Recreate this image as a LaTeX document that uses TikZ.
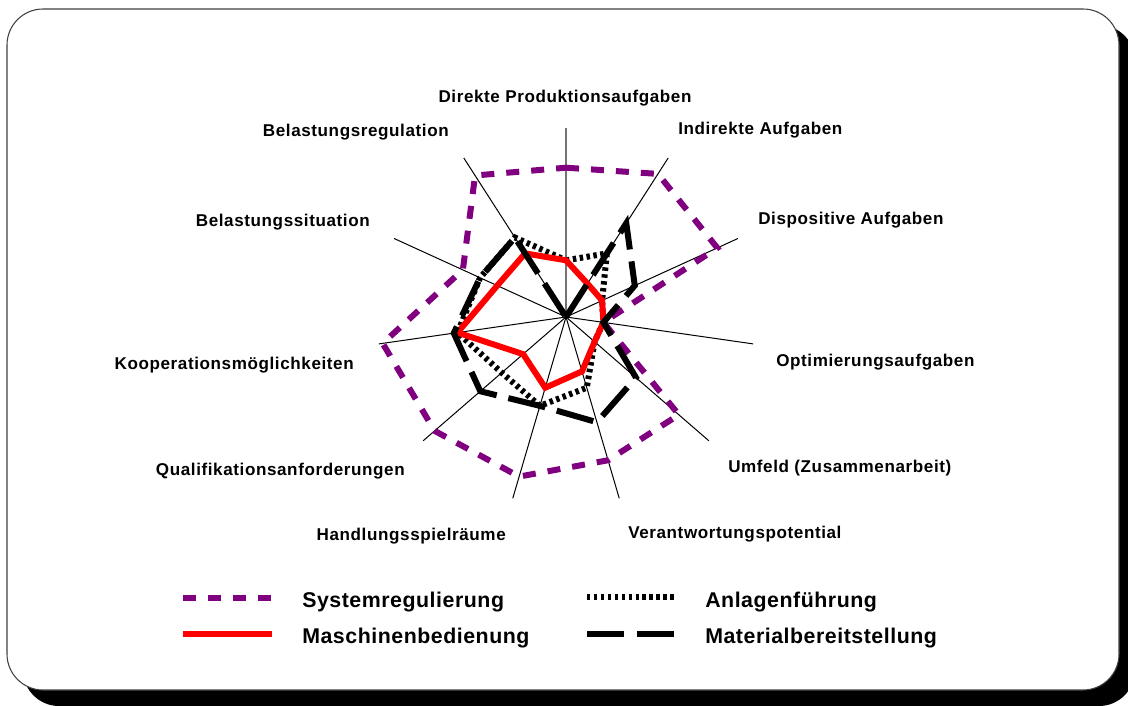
\documentclass[tikz,border=0pt]{standalone}
\usepackage{fontspec}
\setmainfont{Liberation Sans}
\usetikzlibrary{calc}
\definecolor{sysviolet}{RGB}{128,0,128}
\definecolor{machred}{RGB}{255,0,0}

\begin{document}
\begin{tikzpicture}[x=0.75pt,y=-0.75pt,
  spoke/.style={line width=0.75pt,draw=black},
  mainspoke/.style={line width=0.9pt,draw=black!55},
  axlabel/.style={inner sep=0pt,
    font=\fontsize{12.8}{15}\selectfont\bfseries\addfontfeature{LetterSpace=3.5}},
  legtext/.style={inner sep=0pt,anchor=base west,
    font=\fontsize{16}{19}\selectfont\bfseries\addfontfeature{LetterSpace=2.5}},
  serie/.style={line width=4.5pt,line cap=butt,line join=miter,miter limit=10},
  sysline/.style={serie,draw=sysviolet,dash pattern=on 9.75pt off 9pt},
  machline/.style={serie,draw=machred},
  plantline/.style={serie,draw=black,dash pattern=on 2.6pt off 2.6pt},
  matline/.style={serie,draw=black,dash pattern=on 28.5pt off 9pt},
]
\useasboundingbox (0,0) rectangle (1128,706);
\clip (0,0) rectangle (1128,706);

% panel with its drop shadow
\fill[black,rounded corners=27pt] (23,25) rectangle (1135,706);
\draw[fill=white,draw=black!75,line width=0.8pt,rounded corners=27pt] (7,9) rectangle (1119,690);

% radar chart, 11 spokes of radius 189 around the centre
\coordinate (O) at (566,317);
\begin{scope}[shift={(566,317)}]
  \foreach \k in {0,...,10} {
    \coordinate (ax\k) at ({\k*360/11-90}:189);
  }
  \foreach \v [count=\k from 0] in {0.79,0.90,0.88,0.20,0.79,0.79,0.88,0.92,0.98,0.60,0.89} {
    \coordinate (sys\k) at ({\k*360/11-90}:{\v*189});
  }
  \foreach \v [count=\k from 0] in {0.30,0.21,0.21,0.20,0.20,0.30,0.39,0.30,0.58,0.40,0.40} {
    \coordinate (mach\k) at ({\k*360/11-90}:{\v*189});
  }
  \foreach \v [count=\k from 0] in {0.30,0.40,0.21,0.20,0.20,0.39,0.49,0.45,0.58,0.50,0.50} {
    \coordinate (plant\k) at ({\k*360/11-90}:{\v*189});
  }
  \foreach \v [count=\k from 0] in {0.00,0.59,0.40,0.20,0.49,0.58,0.49,0.60,0.60,0.50,0.50} {
    \coordinate (mat\k) at ({\k*360/11-90}:{\v*189});
  }
\end{scope}

\draw[mainspoke] (O) -- (ax0);
\foreach \k in {1,...,10} { \draw[spoke] (O) -- (ax\k); }

\draw[sysline] (sys0) -- (sys1) -- (sys2) -- (sys3) -- (sys4) -- (sys5) -- (sys6)
  -- (sys7) -- (sys8) -- (sys9) -- (sys10) -- cycle;
\draw[plantline] (plant0) -- (plant1) -- (plant2) -- (plant3) -- (plant4) -- (plant5)
  -- (plant6) -- (plant7) -- (plant8) -- (plant9) -- (plant10) -- cycle;
\draw[machline] (mach0) -- (mach1) -- (mach2) -- (mach3) -- (mach4) -- (mach5)
  -- (mach6) -- (mach7) -- (mach8) -- (mach9) -- (mach10) -- cycle;
\draw[matline] (mat0) -- (mat1) -- (mat2) -- (mat3) -- (mat4) -- (mat5) -- (mat6)
  -- (mat7) -- (mat8) -- (mat9) -- (mat10) -- cycle;

% spoke labels
\node[axlabel,anchor=base] (l0) at (565,103) {Direkte Produktionsaufgaben};
\node[axlabel,anchor=base west] (l1) at (678,135) {Indirekte Aufgaben};
\node[axlabel,anchor=base west] (l2) at (758,224) {Dispositive Aufgaben};
\node[axlabel,anchor=base west] (l3) at (776,366) {Optimierungsaufgaben};
\node[axlabel,anchor=base west] (l4) at (728,472) {Umfeld (Zusammenarbeit)};
\node[axlabel,anchor=base west] (l5) at (628,538) {Verantwortungspotential};
\node[axlabel,anchor=base east] (l6) at (506,540) {Handlungsspielräume};
\node[axlabel,anchor=base east] (l7) at (405,475) {Qualifikationsanforderungen};
\node[axlabel,anchor=base east] (l8) at (354,369) {Kooperationsmöglichkeiten};
\node[axlabel,anchor=base east] (l9) at (370,227) {Belastungssituation};
\node[axlabel,anchor=base east] (l10) at (449,137) {Belastungsregulation};

% legend
\coordinate (k1a) at (183,598); \coordinate (k1b) at (272,598);
\coordinate (k2a) at (183,634); \coordinate (k2b) at (272,634);
\coordinate (k3a) at (587,597); \coordinate (k3b) at (676,597);
\coordinate (k4a) at (587,634); \coordinate (k4b) at (676,634);
\draw[sysline,dash pattern=on 9.4pt off 9.4pt] (k1a) -- (k1b);
\draw[machline] (k2a) -- (k2b);
\draw[plantline] (k3a) -- (k3b);
\draw[matline,dash pattern=on 28pt off 9.5pt] (k4a) -- (k4b);
\node[legtext] (t1) at (302,607) {Systemregulierung};
\node[legtext] (t2) at (302,643) {Maschinenbedienung};
\node[legtext] (t3) at (705,607) {Anlagenführung};
\node[legtext] (t4) at (705,643) {Materialbereitstellung};
\end{tikzpicture}
\end{document}
